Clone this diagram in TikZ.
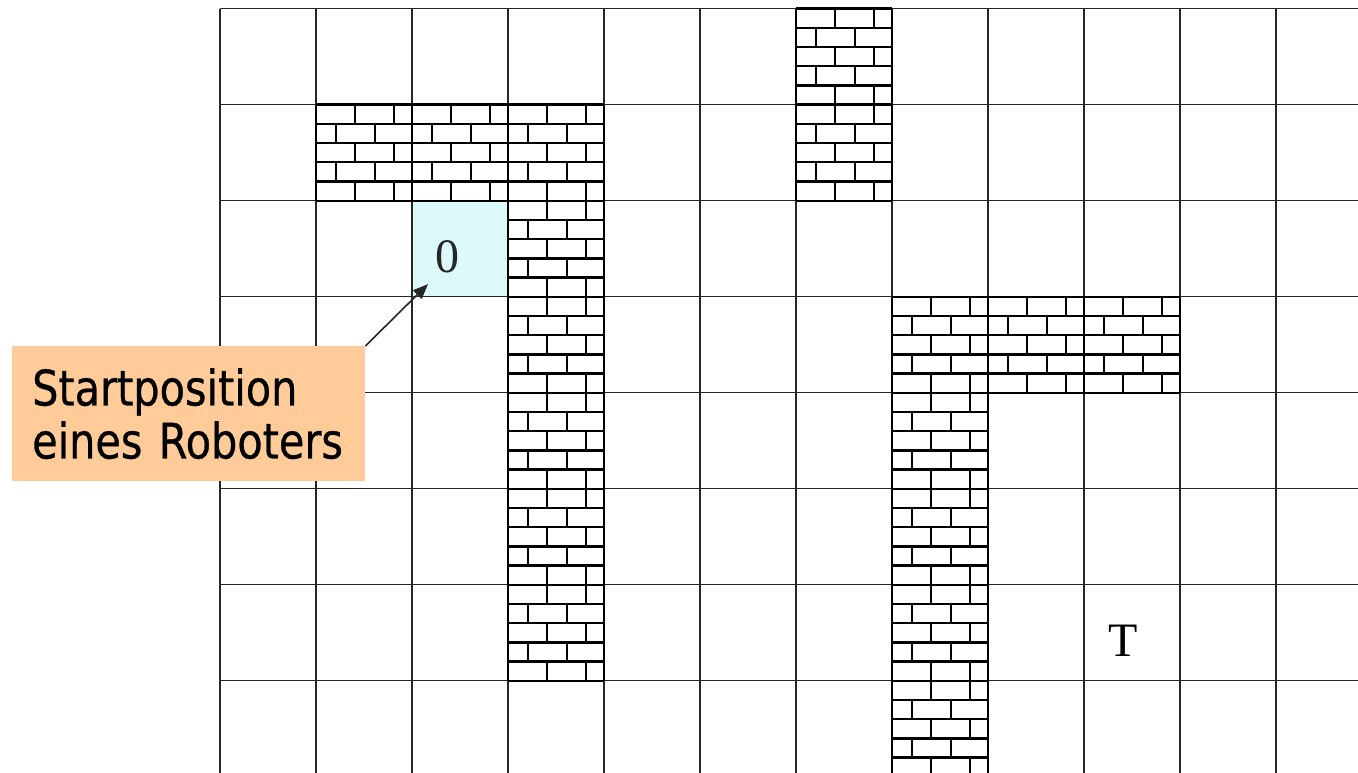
\documentclass[tikz,border=0pt]{standalone}
\usepackage{fontspec}
\setmainfont{Liberation Serif}
\newfontfamily\labelfont[FakeStretch=0.845, FakeBold=0.6]{DejaVu Sans}
\usetikzlibrary{arrows.meta}
\definecolor{peach}{RGB}{255,204,153}
\definecolor{startcyan}{RGB}{220,250,250}

\tikzset{
  gridline/.style={line width=1.3pt, black!85},
  brick/.style={line width=2.4pt, black},
  cellmark/.style={font=\fontsize{48}{48}\selectfont, inner sep=0pt},
}

% one grid cell filled with a brick wall: col, row
\newcommand{\brickcell}[2]{%
  \begin{scope}[shift={(220+96*#1, 8.7+96*#2)}]
    \foreach \k in {0,...,5} \draw[brick] (0,\k*19.2) -- (96,\k*19.2);
    \draw[brick] (0,0) -- (0,96) (96,0) -- (96,96);
    \foreach \k in {0,2,4}
      \draw[brick] (39,\k*19.2) -- ++(0,19.2) (78,\k*19.2) -- ++(0,19.2);
    \foreach \k in {1,3}
      \draw[brick] (20,\k*19.2) -- ++(0,19.2) (59,\k*19.2) -- ++(0,19.2);
  \end{scope}}

\begin{document}
\begin{tikzpicture}[x=1pt, y=-1pt]
  \useasboundingbox (0,0) rectangle (1358,773);
  \clip (0,0) rectangle (1358,773);

  % start cell
  \node[fill=startcyan, minimum size=96pt, inner sep=0pt, anchor=north west]
    (start) at (412,200.7) {};

  % grid
  \foreach \i in {0,...,11}
    \draw[gridline] (220+96*\i, 8.7) -- (220+96*\i, 773);
  \foreach \j in {0,...,7}
    \draw[gridline] (220, 8.7+96*\j) -- (1358, 8.7+96*\j);

  % walls
  \foreach \c/\r in {1/1,2/1,3/1,6/0,6/1,3/2,3/3,3/4,3/5,3/6,
                     7/3,8/3,9/3,7/4,7/5,7/6,7/7,7/8}
    {\brickcell{\c}{\r}}

  % cell marks
  \node[cellmark, text=black!85] (zero) at (447.5,256.5) {0};
  \node[cellmark] (target) at (1123,641) {T};

  % callout
  \node[fill=peach, minimum width=353pt, minimum height=135pt, inner sep=0pt,
        anchor=north west, text width=313pt, align=left,
        font=\labelfont\fontsize{49}{53}\selectfont]
    (label) at (12,346) {Startposition\\eines Roboters};
  \draw[line width=1.6pt, black!85, -{Triangle[length=15pt, width=12pt]}]
    (label.north east) -- ([shift={(16,-13)}]start.south west);
\end{tikzpicture}
\end{document}
